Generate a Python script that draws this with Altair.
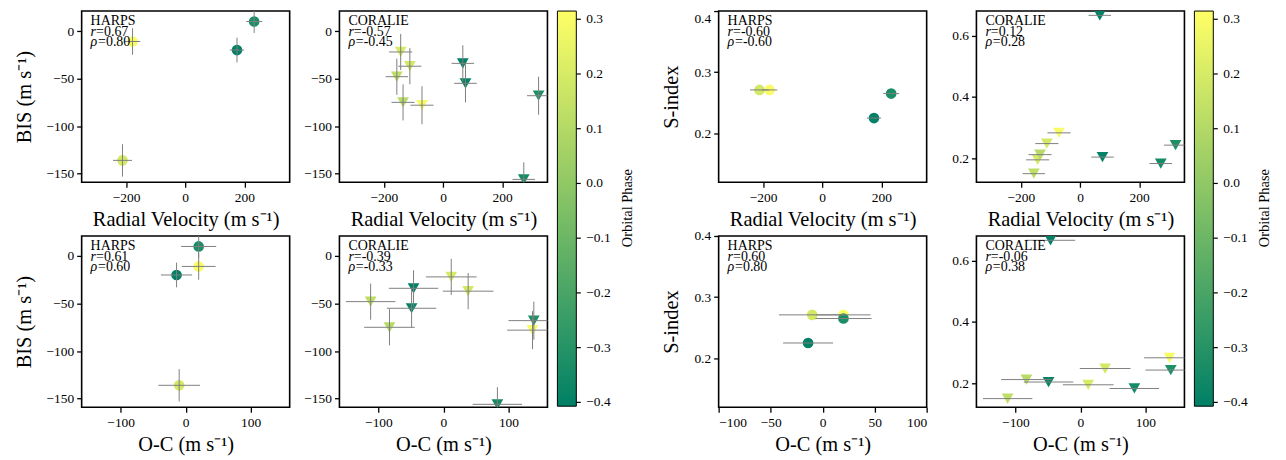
import altair as alt
import pandas as pd

FONT = "Liberation Serif"

# ---------------- data ----------------
# HARPS (4 epochs)
harps_rv = [-178, -212, 175, 233]
harps_oc = [20, -10, -14, 20]
harps_err = [26, 32, 24, 27]
harps_bis = [-11, -136, -20, 10]
harps_bis_err = [14, 17, 13, 12]
harps_s = [0.271, 0.271, 0.225, 0.265]
harps_phase = [0.30, 0.19, -0.40, -0.33]

# CORALIE (9 epochs)
coralie_rv = [-143, -112, -156, -135, -71, 67, 76, 323, 273]
coralie_oc = [12, 38, -112, -83, 137, -46, -49, 139, 83]
coralie_err = [39, 39, 38, 39, 39, 38, 38, 39, 38]
coralie_bis = [-22, -37, -48, -75, -78, -34, -55, -68, -156]
coralie_bis_err = [19, 19, 19, 19, 20, 19, 20, 20, 18]
coralie_s = [0.195, 0.248, 0.150, 0.212, 0.283, 0.666, 0.204, 0.243, 0.183]
coralie_phase = [0.20, 0.19, 0.13, 0.11, 0.29, -0.40, -0.39, -0.32, -0.35]

# correlation coefficients (r, rho) per panel
corr = {
    ("HARPS", "bis", "rv"): (0.67, 0.80),
    ("CORALIE", "bis", "rv"): (-0.57, -0.45),
    ("HARPS", "bis", "oc"): (0.61, 0.60),
    ("CORALIE", "bis", "oc"): (-0.39, -0.33),
    ("HARPS", "s", "rv"): (-0.60, -0.60),
    ("CORALIE", "s", "rv"): (0.12, 0.28),
    ("HARPS", "s", "oc"): (0.60, 0.80),
    ("CORALIE", "s", "oc"): (-0.06, 0.38),
}

phase_dom = [-0.407, 0.315]
phase_ticks = [-0.4, -0.3, -0.2, -0.1, 0.0, 0.1, 0.2, 0.3]
colorbar_title = ["Orbital Phase"]


def make_df(rv, oc, err, bis, bis_err, s, phase):
    df = pd.DataFrame({"rv": rv, "oc": oc, "err": err, "bis": bis,
                       "bis_err": bis_err, "s": s, "phase": phase})
    df["rv_lo"] = df.rv - df.err
    df["rv_hi"] = df.rv + df.err
    df["oc_lo"] = df.oc - df.err
    df["oc_hi"] = df.oc + df.err
    df["bis_lo"] = df.bis - df.bis_err
    df["bis_hi"] = df.bis + df.bis_err
    return df


dfs = {
    "HARPS": make_df(harps_rv, harps_oc, harps_err, harps_bis, harps_bis_err, harps_s, harps_phase),
    "CORALIE": make_df(coralie_rv, coralie_oc, coralie_err, coralie_bis, coralie_bis_err, coralie_s, coralie_phase),
}

cscale = alt.Scale(domain=phase_dom, range=["#008066", "#ffff66"], interpolate="rgb")

W, H = 209, 172
CB_X, CB_W, CB_LEN = 219, 19, 397
UNIT = " (m s\u207b\u00b9)"
ANN = 14


def colorbar_legend():
    return alt.Legend(
        orient="none", legendX=CB_X, legendY=0, direction="vertical",
        gradientLength=CB_LEN, gradientThickness=CB_W,
        gradientStrokeColor="black", gradientStrokeWidth=1,
        values=phase_ticks, format=".1f",
        labelFont=FONT, labelFontSize=13.5, labelColor="black", labelOffset=10,
        title=None,
    )


def panel(inst, ycol, xcol, xdom, ydom, xticks, yticks, yfmt, xtitle, ytitle,
          legend=False, yflush=False):
    df = dfs[inst]
    shape = "circle" if inst == "HARPS" else "triangle-down"
    size = 115 if inst == "HARPS" else 140
    xs = alt.Scale(domain=xdom, nice=False, zero=False)
    ys = alt.Scale(domain=ydom, nice=False, zero=False)
    xaxis = alt.Axis(values=xticks, format="d", title=xtitle)
    yaxis = alt.Axis(values=yticks, format=yfmt, title=ytitle, labelFlush=yflush)
    base = alt.Chart(df)
    if legend:
        color = alt.Color("phase:Q", scale=cscale, legend=colorbar_legend())
    else:
        color = alt.Color("phase:Q", scale=cscale, legend=None)
    pts = base.mark_point(filled=True, shape=shape, size=size, opacity=1,
                          clip=True).encode(
        x=alt.X(f"{xcol}:Q", scale=xs, axis=xaxis),
        y=alt.Y(f"{ycol}:Q", scale=ys, axis=yaxis),
        color=color,
    )
    hbar = base.mark_rule(color="#7f7f7f", strokeWidth=1, clip=True).encode(
        x=alt.X(f"{xcol}_lo:Q", scale=xs),
        x2=f"{xcol}_hi:Q",
        y=alt.Y(f"{ycol}:Q", scale=ys),
    )
    layers = [pts, hbar]
    if ycol == "bis":
        vbar = base.mark_rule(color="#7f7f7f", strokeWidth=1, clip=True).encode(
            x=alt.X(f"{xcol}:Q", scale=xs),
            y=alt.Y("bis_lo:Q", scale=ys),
            y2="bis_hi:Q",
        )
        layers.append(vbar)
    r, rho = corr[(inst, ycol, xcol)]
    tdf = pd.DataFrame({"inst": [inst], "r": [f"={r:.2f}"], "rho": [f"={rho:.2f}"]})
    tb = alt.Chart(tdf)
    tstyle = dict(align="left", baseline="alphabetic", font=FONT, fontSize=ANN, color="black")
    layers.append(tb.mark_text(**tstyle).encode(x=alt.value(9), y=alt.value(14), text="inst:N"))
    layers.append(tb.mark_text(fontStyle="italic", **tstyle).encode(
        x=alt.value(9), y=alt.value(24.7), text=alt.value("r")))
    layers.append(tb.mark_text(**tstyle).encode(x=alt.value(14.5), y=alt.value(24.7), text="r:N"))
    layers.append(tb.mark_text(fontStyle="italic", **tstyle).encode(
        x=alt.value(9), y=alt.value(35.4), text=alt.value("\u03c1")))
    layers.append(tb.mark_text(**tstyle).encode(x=alt.value(16.5), y=alt.value(35.4), text="rho:N"))
    if legend:
        cdf = pd.DataFrame({"t": colorbar_title})
        layers.append(alt.Chart(cdf).mark_text(
            font=FONT, fontSize=14.5, color="black", angle=270, align="center",
            baseline="middle").encode(x=alt.value(290), y=alt.value(198), text="t:N"))
        inner = alt.layer(*layers)
        tk = alt.Chart(pd.DataFrame({"v": phase_ticks})).mark_rule(
            color="black", strokeWidth=1.2).encode(
            x=alt.value(CB_X + CB_W), x2=alt.value(CB_X + CB_W + 4.5),
            y=alt.Y("v:Q", scale=alt.Scale(domain=phase_dom, range=[CB_LEN, 0], nice=False,
                                           zero=False), axis=None),
        )
        return alt.layer(inner, tk).resolve_scale(y="independent").properties(width=W, height=H)
    return alt.layer(*layers).properties(width=W, height=H)


def spacer():
    return alt.Chart(pd.DataFrame({"t": [" "]})).mark_text(
        opacity=0, baseline="middle", fontSize=1
    ).encode(
        x=alt.value(36), y=alt.value(86), text="t:N"
    ).properties(width=72, height=H,
                 view=alt.ViewBackground(stroke="transparent", fill="transparent"))


RV_DOM = [-350, 353]
OC_DOM = [-160, 160]
BIS_DOM = [-159, 21]
BIS_TICKS = [-150, -100, -50, 0]

p1 = panel("HARPS", "bis", "rv", RV_DOM, BIS_DOM, [-200, 0, 200], BIS_TICKS, "d",
           "Radial Velocity" + UNIT, "BIS" + UNIT)
p2 = panel("CORALIE", "bis", "rv", RV_DOM, BIS_DOM, [-200, 0, 200], BIS_TICKS, "d",
           "Radial Velocity" + UNIT, None, legend=True)
p3 = panel("HARPS", "bis", "oc", OC_DOM, BIS_DOM, [-100, 0, 100], BIS_TICKS, "d",
           "O-C" + UNIT, "BIS" + UNIT)
p4 = panel("CORALIE", "bis", "oc", OC_DOM, BIS_DOM, [-100, 0, 100], BIS_TICKS, "d",
           "O-C" + UNIT, None)
p5 = panel("HARPS", "s", "rv", RV_DOM, [0.12, 0.4], [-200, 0, 200], [0.2, 0.3, 0.4], ".1f",
           "Radial Velocity" + UNIT, "S-index", yflush=True)
p6 = panel("CORALIE", "s", "rv", RV_DOM, [0.122, 0.68], [-200, 0, 200], [0.2, 0.4, 0.6], ".1f",
           "Radial Velocity" + UNIT, None, legend=True)
p7 = panel("HARPS", "s", "oc", [-100, 100], [0.12, 0.4], [-100, -50, 0, 50, 100], [0.2, 0.3, 0.4], ".1f",
           "O-C" + UNIT, "S-index")
p8 = panel("CORALIE", "s", "oc", OC_DOM, [0.122, 0.68], [-100, 0, 100], [0.2, 0.4, 0.6], ".1f",
           "O-C" + UNIT, None)

chart = alt.concat(
    p1, p2, spacer(), p5, p6,
    p3, p4, spacer(), p7, p8,
    columns=5, bounds="flush", spacing={"row": 54, "column": 50},
).resolve_scale(
    x="independent", y="independent", color="independent"
).resolve_legend(color="independent")

chart = chart.properties(
    padding={"left": 5, "top": 0, "right": 5, "bottom": 5}
).configure_view(
    stroke="black", strokeWidth=1.6
).configure_axis(
    domain=False, grid=False, tickColor="black", tickSize=5, tickWidth=1.3,
    labelFont=FONT, labelFontSize=13.5, labelColor="black", labelPadding=3,
    titleFont=FONT, titleFontSize=20.5, titleFontWeight="normal", titleColor="black",
).configure_axisX(
    titlePadding=6
).configure_axisY(
    titlePadding=12
)

chart.save("out.html", embed_options={"renderer": "svg", "actions": False})
